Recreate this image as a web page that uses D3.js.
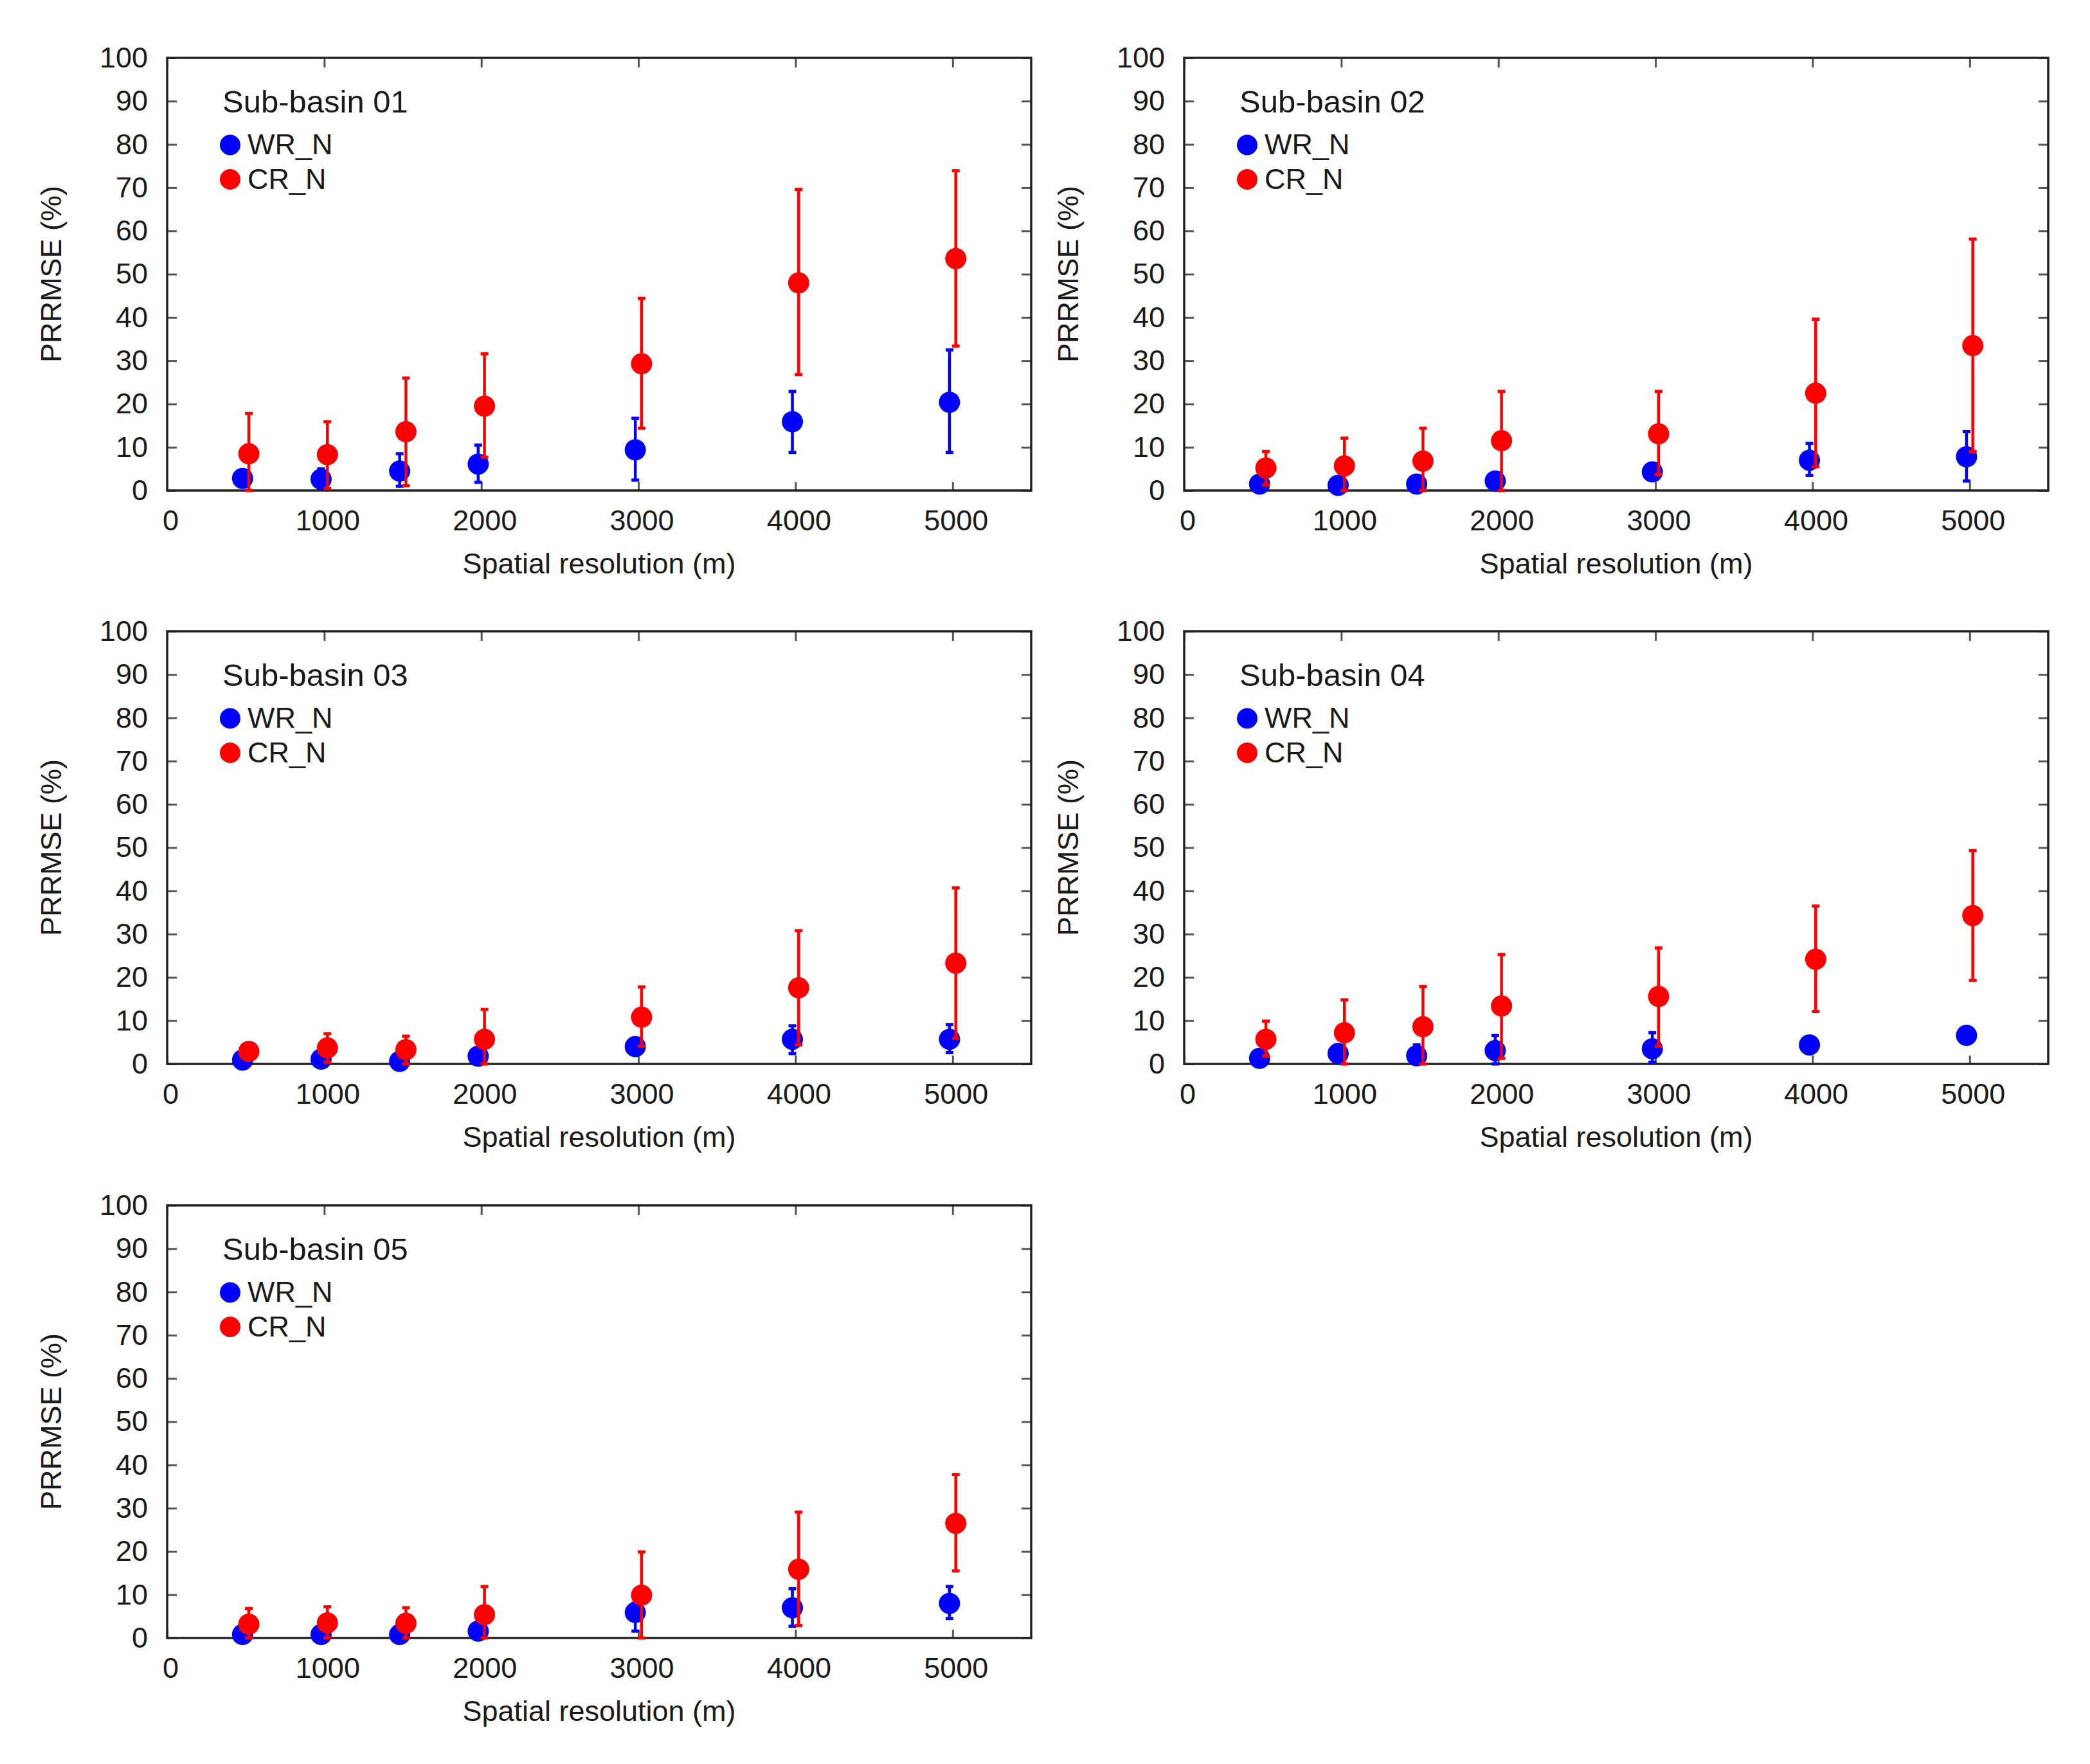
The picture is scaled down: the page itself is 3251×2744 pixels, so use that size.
<!DOCTYPE html>
<html>
<head>
<meta charset="utf-8">
<script src="https://cdn.jsdelivr.net/npm/d3@7"></script>
<style>
  body { margin: 0; background: #fff; }
  text { font-family: "Liberation Sans", Arial, sans-serif; fill: #1a1a1a; }
</style>
</head>
<body>
<div id="content"></div>
<script>
// data
var basins = ["Sub-basin 01", "Sub-basin 02", "Sub-basin 03", "Sub-basin 04", "Sub-basin 05"];
var resolution = [500, 1000, 1500, 2000, 3000, 4000, 5000];
var xTicks = [0, 1000, 2000, 3000, 4000, 5000];
var yTicks = [0, 10, 20, 30, 40, 50, 60, 70, 80, 90, 100];
var seriesNames = ["WR_N", "CR_N"];

var wrValue = [
  [2.8, 2.6, 4.5, 6.1, 9.4, 15.9, 20.4],
  [1.5, 1.2, 1.5, 2.2, 4.3, 7.0, 7.8],
  [0.9, 1.1, 0.6, 1.8, 4.0, 5.7, 5.7],
  [1.3, 2.4, 1.9, 3.1, 3.5, 4.4, 6.6],
  [0.8, 0.8, 0.8, 1.6, 5.9, 7.0, 8.0]
];
var wrLow = [
  [1.2, 0.5, 1.0, 1.9, 2.4, 8.8, 8.8],
  [0.5, 0.2, 0.5, 1.0, 3.0, 3.5, 2.2],
  [0.3, 0.4, 0.1, 1.0, 2.5, 2.4, 2.6],
  [0.4, 1.2, 0.6, 0.0, 0.4, 3.5, 5.5],
  [0.2, 0.2, 0.2, 0.6, 1.6, 2.7, 4.5]
];
var wrHigh = [
  [4.4, 5.0, 8.5, 10.5, 16.7, 22.9, 32.5],
  [2.5, 2.2, 2.5, 3.4, 5.6, 10.9, 13.6],
  [1.6, 1.8, 1.2, 2.8, 5.5, 8.8, 9.1],
  [2.4, 4.4, 4.4, 6.6, 7.2, 5.3, 7.7],
  [1.4, 1.4, 1.4, 2.6, 8.0, 11.4, 11.9]
];
var crValue = [
  [8.5, 8.3, 13.6, 19.5, 29.3, 48.0, 53.6],
  [5.2, 5.7, 6.8, 11.5, 13.1, 22.5, 33.5],
  [2.9, 3.7, 3.3, 5.7, 10.8, 17.6, 23.3],
  [5.7, 7.2, 8.6, 13.4, 15.6, 24.2, 34.3],
  [3.2, 3.5, 3.4, 5.4, 9.9, 15.9, 26.5]
];
var crLow = [
  [0.0, 0.5, 1.1, 7.7, 14.4, 26.8, 33.4],
  [1.3, 0.0, 0.0, 0.0, 3.7, 5.5, 9.0],
  [1.5, 0.4, 0.0, 0.0, 4.1, 4.4, 5.9],
  [1.8, 0.0, 0.0, 1.3, 4.1, 12.1, 19.3],
  [0.0, 0.0, 0.0, 0.0, 0.0, 2.9, 15.5]
];
var crHigh = [
  [17.8, 15.9, 26.0, 31.6, 44.4, 69.6, 73.9],
  [9.0, 12.1, 14.4, 22.9, 22.9, 39.6, 58.1],
  [4.5, 7.0, 6.4, 12.6, 17.8, 30.8, 40.7],
  [9.9, 14.8, 17.9, 25.3, 26.8, 36.5, 49.3],
  [6.8, 7.2, 7.0, 11.9, 19.9, 29.1, 37.8]
];

var colors = ["#0000ff", "#ff0000"];
var dodge = [-20, 20]; // small x shift between the two series (m)

var svg_width = 3251, svg_height = 2744;
var plotW = 1344, plotH = 673;
var lefts = [260, 1842];
var tops = [90, 982, 1875];

var svg = d3.select("#content").append("svg")
  .attr("width", svg_width)
  .attr("height", svg_height);

var x = d3.scaleLinear().domain([0, 5500]).range([0, plotW]);
var y = d3.scaleLinear().domain([0, 100]).range([plotH, 0]);

basins.forEach(function(name, i) {
  var g = svg.append("g")
    .attr("transform", "translate(" + lefts[i % 2] + "," + tops[Math.floor(i / 2)] + ")");

  // axes, ticks pointing inward
  var bottom = g.append("g").attr("transform", "translate(0," + plotH + ")")
    .call(d3.axisBottom(x).tickValues(xTicks).tickSizeInner(-13).tickSizeOuter(0).tickPadding(30).tickFormat(d3.format("d")));
  bottom.selectAll("text").attr("dx", 5);
  g.append("g")
    .call(d3.axisTop(x).tickValues(xTicks).tickSizeInner(-15).tickSizeOuter(0).tickFormat(""));
  g.append("g")
    .call(d3.axisLeft(y).tickValues(yTicks).tickSizeInner(-15).tickSizeOuter(0).tickPadding(30));
  g.append("g").attr("transform", "translate(" + plotW + ",0)")
    .call(d3.axisRight(y).tickValues(yTicks).tickSizeInner(-15).tickSizeOuter(0).tickFormat(""));

  g.selectAll(".domain").remove();
  g.selectAll(".tick line").style("stroke", "#555").style("stroke-width", 3);
  g.selectAll(".tick text").style("font-size", "45px").style("font-family", "Liberation Sans, Arial, sans-serif").style("fill", "#1a1a1a");

  g.append("rect")
    .attr("x", 0).attr("y", 0).attr("width", plotW).attr("height", plotH)
    .style("fill", "none").style("stroke", "#222").style("stroke-width", 3.5);

  // axis titles
  g.append("text")
    .attr("x", plotW / 2).attr("y", plotH + 129)
    .attr("text-anchor", "middle")
    .style("font-size", "45px")
    .text("Spatial resolution (m)");
  g.append("text")
    .attr("transform", "translate(-181," + plotH / 2 + ") rotate(-90)")
    .attr("text-anchor", "middle")
    .attr("dy", "0.35em")
    .style("font-size", "45px")
    .text("PRRMSE (%)");

  // series
  var series = [
    { v: wrValue[i], lo: wrLow[i], hi: wrHigh[i] },
    { v: crValue[i], lo: crLow[i], hi: crHigh[i] }
  ];
  series.forEach(function(s, k) {
    var pts = resolution.map(function(r, j) {
      return { x: r + dodge[k], v: s.v[j], lo: s.lo[j], hi: s.hi[j] };
    });
    var sg = g.append("g");
    sg.selectAll(".bar").data(pts).enter().append("line")
      .attr("x1", function(d) { return x(d.x); })
      .attr("x2", function(d) { return x(d.x); })
      .attr("y1", function(d) { return y(d.lo); })
      .attr("y2", function(d) { return y(d.hi); })
      .style("stroke", colors[k]).style("stroke-width", 4.5);
    ["lo", "hi"].forEach(function(key) {
      sg.selectAll(".cap-" + key).data(pts).enter().append("line")
        .attr("x1", function(d) { return x(d.x) - 6; })
        .attr("x2", function(d) { return x(d.x) + 6; })
        .attr("y1", function(d) { return y(d[key]); })
        .attr("y2", function(d) { return y(d[key]); })
        .style("stroke", colors[k]).style("stroke-width", 5);
    });
    sg.selectAll("circle").data(pts).enter().append("circle")
      .attr("cx", function(d) { return x(d.x); })
      .attr("cy", function(d) { return y(d.v); })
      .attr("r", 16.5)
      .style("fill", colors[k]);
  });

  // key
  g.append("text")
    .attr("x", 86).attr("y", 85)
    .style("font-size", "49px")
    .text(name);
  seriesNames.forEach(function(sn, k) {
    g.append("circle")
      .attr("cx", 98).attr("cy", 135.5 + k * 53.5)
      .attr("r", 16)
      .style("fill", colors[k]);
    g.append("text")
      .attr("x", 125).attr("y", 150 + k * 54)
      .style("font-size", "45px")
      .text(sn);
  });
});
</script>
</body>
</html>
